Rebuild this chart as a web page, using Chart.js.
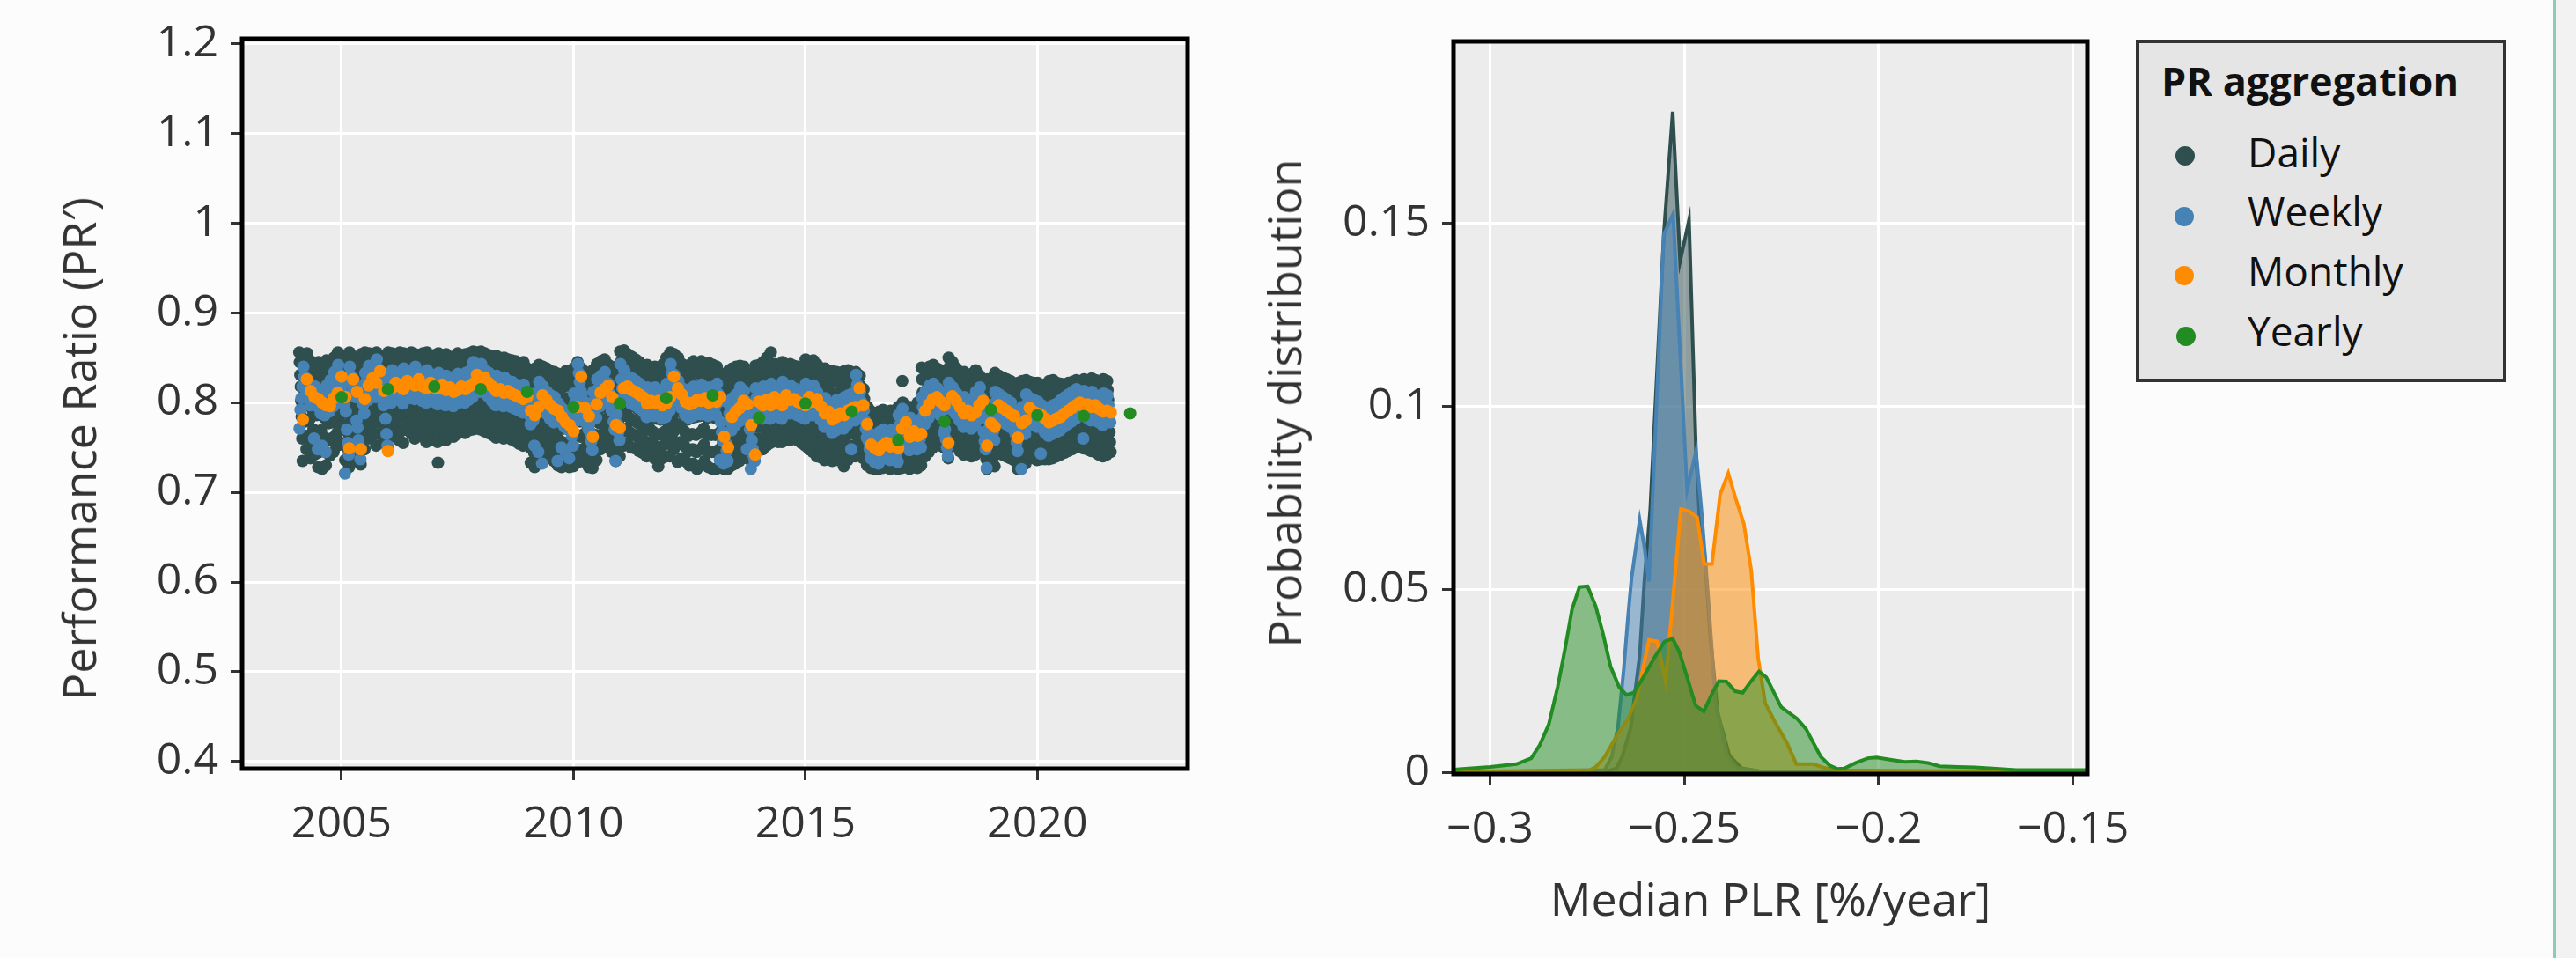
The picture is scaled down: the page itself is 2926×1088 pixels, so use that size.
<!DOCTYPE html>
<html>
<head>
<meta charset="utf-8">
<script src="https://cdn.jsdelivr.net/npm/chart.js@4.4.1/dist/chart.umd.min.js"></script>
<style>
  html, body { margin: 0; padding: 0; }
  body { width: 2926px; height: 1088px; background: #fcfcfc; position: relative; overflow: hidden;
         font-family: 'Open Sans', sans-serif; color: #333; }
  canvas { position: absolute; top: 0; }
  .axis-title { position: absolute; white-space: nowrap; font-size: 52px; line-height: 52px;
                transform: translate(-50%, -50%); }
  .axis-title.rot { transform: translate(-50%, -50%) rotate(-90deg); }
  #legend { position: absolute; left: 2426px; top: 45px; width: 421px; height: 389px;
            box-sizing: border-box; border: 4px solid #333; background: #e5e5e5; }
  .leg-text { position: absolute; white-space: nowrap; color: #111; }
  .leg-dot { position: absolute; width: 22px; height: 22px; border-radius: 50%; }
  #stripe { position: absolute; left: 2900px; top: 0; width: 3px; height: 1088px; background: #8fcab2; }
  #edge { position: absolute; left: 2903px; top: 0; width: 23px; height: 1088px; background: #f2f2f2; }
</style>
</head>
<body>
<canvas id="prChart" width="1400" height="1088" style="left:0"></canvas>
<canvas id="plrChart" width="1526" height="1088" style="left:1400px"></canvas>

<div class="axis-title rot" style="left:89px; top:510px">Performance Ratio (PR′)</div>
<div class="axis-title rot" style="left:1458px; top:458px">Probability distribution</div>
<div class="axis-title" style="left:2011px; top:1020px">Median PLR [%/year]</div>

<div id="legend"></div>
<div class="leg-text" style="left:2455px; top:69px; font-size:45px; line-height:45px; font-weight:bold">PR aggregation</div>
<div class="leg-dot" style="left:2471px; top:166px; background:#2f4f4f"></div>
<div class="leg-text" style="left:2553px; top:149px; font-size:46px; line-height:46px">Daily</div>
<div class="leg-dot" style="left:2470px; top:235px; background:#4682b4"></div>
<div class="leg-text" style="left:2553px; top:216px; font-size:46px; line-height:46px">Weekly</div>
<div class="leg-dot" style="left:2470px; top:302px; background:#ff8c00"></div>
<div class="leg-text" style="left:2553px; top:284px; font-size:46px; line-height:46px">Monthly</div>
<div class="leg-dot" style="left:2472px; top:371px; background:#228b22"></div>
<div class="leg-text" style="left:2553px; top:352px; font-size:46px; line-height:46px">Yearly</div>

<div id="stripe"></div>
<div id="edge"></div>

<script>
// series run from Feb 2004 to Jul 2021
const startYear = 2004;
const startMonth = 1;

// daily PR, thousandths, one group per month ("|"), one string per year
const dailyPR = [
  "856 845 831 818 802 784 760 735|851 842 829 814 797 779 763 748|855 843 833 816 800 781 757 738|846 837 822 808 791 770 754 742|843 831 820 803 786 764 744 728|845 834 819 806 788 769 747 726|840 828 817 801 783 761 745 730|847 836 824 809 794 777 758 741|844 835 822 811 795 778 761 745|850 838 826 812 797 781 766 752|856 845 832 818 803 787 771 755",
  "853 840 829 814 797 775 752 736|849 836 822 806 788 766 747 728|856 844 830 817 801 783 762 744|851 841 828 811 794 773 752 735|848 835 821 804 786 764 746 731|854 843 830 815 799 782 765 748|856 846 834 820 805 790 774 760|855 844 831 818 802 788 775 763|853 842 829 813 798 781 765 752|856 847 835 822 808 792 778 765|852 840 827 813 798 784 770 758|850 839 826 810 794 778 763 750",
  "856 845 833 819 804 789 775 762|855 846 834 821 807 793 779 768|853 841 829 816 801 786 771 758|856 844 831 816 800 784 769 755|855 847 836 823 809 795 781 770|852 843 832 819 805 790 777 766|856 845 832 817 802 787 773 760|854 846 836 824 811 797 784 772|853 842 830 815 800 786 773 762|855 843 829 814 798 783 768 756|856 846 835 822 807 792 779 768|850 840 829 815 800 785 771 758",
  "853 842 830 815 799 780 756 733|855 845 834 820 805 790 776 764|850 840 828 813 798 783 770 758|854 844 832 818 803 789 776 765|849 839 827 812 798 785 773 762|851 841 829 815 801 788 776 765|855 845 833 819 805 791 779 768|852 842 830 816 802 789 777 766|854 844 833 819 805 792 780 769|855 846 835 822 808 794 782 770|857 848 837 824 810 796 783 771|856 846 835 821 807 794 781 770",
  "857 847 836 822 808 794 781 768|855 845 833 819 805 791 778 766|853 842 830 816 802 788 775 764|851 840 828 813 799 785 772 761|852 841 829 815 801 787 774 763|849 838 826 811 797 783 771 760|850 840 828 813 799 786 773 762|848 837 825 810 796 782 770 759|847 836 823 808 793 779 767 757|846 835 822 806 791 777 765 754|844 833 820 804 789 775 763 752|845 834 821 806 791 777 765 755",
  "838 826 813 798 783 766 750 733|836 824 810 794 778 760 744 728|838 827 815 800 785 769 753 738|842 832 820 806 792 778 764 752|840 829 817 803 788 773 758 745|838 826 813 799 784 769 754 740|835 824 811 796 781 765 750 735|834 822 809 794 778 762 746 730|832 820 806 790 774 757 742 728|830 817 803 787 771 755 741 730|835 821 805 788 771 755 740 728|833 818 801 784 767 751 739 729",
  "838 826 812 797 781 764 748 733|845 836 825 811 796 779 762 745|838 826 812 797 781 765 749 734|834 821 807 791 775 758 742 728|830 816 800 783 766 750 738 727|836 824 811 796 780 764 750 736|843 833 821 807 792 777 762 748|846 836 824 810 795 780 766 752|848 838 826 812 797 782 768 755|842 831 818 803 788 772 758 745|836 823 808 792 776 760 746 735|840 826 810 794 778 763 750 740",
  "857 845 832 817 801 785 768 752|858 847 834 820 804 788 771 755|854 843 830 815 799 782 766 750|851 840 827 812 796 780 764 749|848 837 824 809 793 777 761 746|845 834 821 806 790 774 759 744|840 829 816 801 785 769 754 740|842 831 818 803 787 771 756 742|838 827 814 799 783 767 752 738|840 829 815 799 782 764 746 729|836 825 812 797 781 765 751 738|842 830 816 800 784 768 754 740",
  "850 839 826 811 794 776 758 740|856 846 834 820 804 786 767 748|854 842 829 813 795 776 755 734|850 839 826 810 793 775 756 738|843 832 819 803 786 768 751 735|840 829 815 799 781 763 746 730|842 831 817 801 783 765 748 732|846 834 820 803 784 764 745 726|844 833 819 803 785 766 748 730|846 835 822 806 789 771 753 735|842 831 817 801 783 764 746 728|844 833 819 802 784 764 745 726",
  "842 831 817 801 783 764 745 726|840 829 816 801 784 766 748 730|832 820 805 789 772 755 740 726|828 815 800 784 767 751 738 726|835 823 809 793 776 759 744 730|838 826 812 796 779 762 747 732|840 828 814 798 781 765 750 735|841 830 817 802 786 770 755 740|840 829 815 800 784 768 753 738|832 820 806 791 775 760 747 735|828 816 802 788 773 760 750 742|841 830 817 803 788 773 760 748",
  "842 831 818 804 789 774 760 748|845 834 821 807 792 778 764 752|850 838 824 809 794 780 767 755|856 843 829 814 799 784 771 758|843 832 820 806 791 777 765 756|841 830 818 804 789 775 764 756|845 835 823 810 796 782 770 760|842 832 820 806 792 778 767 758|843 833 821 807 793 780 769 760|841 831 819 805 791 777 767 758|840 829 817 803 788 775 764 755|839 828 815 801 786 772 761 752",
  "848 837 824 809 793 777 762 748|845 834 821 806 790 774 759 745|847 835 822 806 789 771 755 740|842 830 817 801 785 768 753 739|838 826 812 796 780 764 749 736|838 827 814 799 783 767 753 740|832 820 806 791 775 760 747 735|835 823 809 793 777 761 748 736|834 823 810 795 779 764 750 738|833 821 807 791 774 757 742 729|835 824 811 796 780 764 749 736|836 825 812 797 781 766 752 740",
  "833 822 810 795 780 765 752 740|834 825 815 802 787 772 759 748|830 819 806 792 777 762 749 738|815 804 792 779 765 752 740 730|795 786 776 765 754 743 734 727|790 781 771 760 750 740 732 726|788 779 769 758 748 739 731 726|790 781 772 762 752 742 733 727|792 783 774 764 754 744 735 728|789 780 770 759 749 740 732 726|791 782 773 763 753 743 734 727|788 779 769 758 748 739 731 726",
  "795 786 776 765 754 744 735 727|824 800 789 777 765 753 740 729|790 781 771 760 749 739 731 726|795 786 776 765 754 744 735 728|792 783 773 762 751 741 733 727|800 790 779 767 756 746 737 730|839 826 811 795 779 764 751 740|836 826 814 800 786 771 757 745|840 830 818 804 790 775 762 750|842 832 820 806 792 778 766 755|838 828 816 802 788 774 762 752|836 826 814 800 786 772 760 750",
  "835 822 807 791 776 762 749 738|850 839 826 811 796 781 767 755|845 834 821 806 791 777 764 752|838 827 814 799 784 770 757 746|832 821 808 793 778 765 752 742|834 823 810 795 780 767 754 744|830 819 806 791 776 763 750 740|832 821 808 793 778 765 752 742|836 825 813 799 784 770 757 746|830 821 811 799 785 771 757 745|820 808 794 779 764 750 737 726|826 814 800 785 770 756 743 732",
  "826 814 800 785 770 755 741 729|833 823 811 797 782 768 756 745|830 820 808 794 779 765 753 742|828 818 806 792 777 763 751 740|826 816 803 789 774 760 748 738|824 814 801 787 772 758 746 736|818 806 792 777 762 748 736 726|822 810 796 781 766 751 739 728|824 813 799 784 769 755 743 732|825 815 804 791 776 762 750 740|823 813 801 787 773 760 748 738|822 812 800 786 772 759 747 736",
  "822 812 800 786 772 759 747 737|820 809 797 783 769 756 746 737|819 808 795 781 767 755 745 737|824 812 799 785 771 758 747 738|825 814 801 787 773 760 749 740|822 812 800 787 774 762 751 742|821 812 801 789 776 764 753 744|820 812 802 791 779 767 756 746|822 814 804 793 781 769 758 748|823 815 806 795 783 771 760 750|825 817 808 797 785 773 762 752|822 814 805 794 782 770 759 749",
  "826 817 807 795 783 771 759 748|824 815 805 793 781 769 757 746|827 817 806 794 781 769 757 745|825 815 804 792 779 766 754 742|823 813 802 790 777 764 752 740|826 815 803 790 777 765 753 742|824 814 803 791 779 767 756 745"
];

// weekly PR, thousandths, four weeks per month
const weeklyPR = [
  "771 792 805 818|840 829 820 810|826 816 807 797|820 809 800 760|818 807 796 748|812 800 788 752|809 799 786 745|819 809 799 790|825 815 806 796|834 822 812 802|842 832 823 813",
  "821 810 798 721|790 770 755 742|840 830 820 810|826 816 806 780|772 758 748 737|818 808 798 788|833 823 813 803|841 831 821 811|836 826 816 806|848 838 828 818|827 817 807 797|805 782 765 752",
  "830 821 809 800|836 825 817 806|833 822 811 803|829 818 810 799|838 829 818 808|835 824 816 805|833 823 812 804|840 831 819 810|832 823 811 802|830 819 811 800|836 827 815 806|831 820 812 801",
  "831 819 808 798|833 825 814 805|829 817 809 797|830 821 810 801|826 815 806 796|829 817 808 799|832 822 812 803|828 819 808 800|833 821 812 803|835 825 815 806|845 835 825 816|842 831 822 812",
  "843 831 822 812|836 826 816 807|833 821 812 802|827 817 808 797|830 818 809 800|825 815 805 796|828 816 808 798|824 814 805 795|823 811 802 793|820 810 800 791|819 807 798 789|820 810 800 791",
  "806 795 786 776|801 790 780 752|810 799 790 745|823 812 802 732|818 807 797 788|812 801 792 782|808 797 788 778|806 795 786 735|799 788 778 750|793 782 773 745|790 779 770 738|783 772 763 752",
  "810 799 790 780|843 833 823 813|809 798 789 779|800 789 780 770|777 766 757 747|812 802 792 783|826 815 806 796|830 819 810 800|834 823 814 804|821 810 801 791|790 779 770 735|787 776 767 758",
  "843 826 816 806|836 823 813 803|829 818 809 799|827 816 807 797|824 813 804 794|821 810 801 791|814 803 794 784|817 806 797 787|815 804 795 785|817 806 797 787|812 801 792 782|814 803 794 784",
  "821 810 801 791|843 833 823 814|831 820 811 801|824 813 804 794|816 805 796 786|813 802 793 783|815 804 795 785|818 807 798 788|817 806 797 787|820 809 800 790|815 804 795 785|817 806 797 787",
  "816 805 796 786|821 810 801 736|778 767 757 732|766 755 746 735|799 788 779 769|805 794 785 775|809 798 789 779|817 806 797 787|813 802 793 748|790 779 770 726|758 748 740 735|816 805 796 786",
  "812 801 792 782|818 807 798 788|812 801 792 782|821 810 801 791|814 803 794 784|812 801 792 782|823 812 803 793|818 807 798 788|819 808 799 789|816 805 796 786|814 803 794 784|812 801 792 782",
  "821 810 801 791|816 805 796 786|819 808 799 789|811 800 791 781|803 792 783 773|805 794 785 775|796 785 776 766|799 788 779 769|803 792 783 773|801 790 781 771|806 795 786 776|808 797 788 748",
  "810 799 790 780|831 820 811 801|812 801 792 782|791 780 771 761|768 757 748 738|764 753 744 734|762 751 742 732|767 756 747 737|770 759 750 740|766 755 746 736|769 758 749 739|764 753 744 734",
  "786 775 766 756|793 782 773 763|777 766 757 747|783 772 763 753|778 767 758 748|780 769 760 750|806 795 786 776|813 802 793 783|819 808 799 789|821 810 801 791|816 805 796 786|812 801 792 766",
  "770 759 750 740|822 811 802 792|817 806 797 787|810 799 790 780|803 792 783 773|806 795 786 776|801 790 781 771|804 793 784 774|812 801 792 782|817 806 797 787|767 757 748 727|792 781 772 762",
  "788 777 768 758|812 801 792 782|809 798 789 779|806 795 786 776|803 792 783 773|800 789 780 770|776 765 756 746|792 781 772 726|795 784 775 765|809 798 789 779|805 794 785 775|803 792 783 773",
  "801 790 781 743|797 786 777 767|793 782 773 763|795 784 775 765|797 786 777 767|799 788 779 769|803 792 783 773|806 795 786 776|809 798 789 779|812 801 792 782|815 804 795 785|811 800 791 760",
  "813 802 793 783|810 799 790 780|812 801 792 782|808 797 788 778|805 794 785 775|810 799 790 780|808 797 788 778"
];

// monthly PR (month-end), Feb 2004 .. Jul 2021
const monthlyPR = [
  0.781, 0.826, 0.813, 0.806, 0.804, 0.800, 0.797, 0.796, 0.805, 0.811, 0.829,
  0.806, 0.749, 0.826, 0.812, 0.748, 0.804, 0.819, 0.827, 0.822, 0.835, 0.813, 0.746,
  0.816, 0.822, 0.818, 0.815, 0.824, 0.821, 0.819, 0.826, 0.818, 0.816, 0.822, 0.817,
  0.816, 0.820, 0.814, 0.817, 0.812, 0.814, 0.818, 0.815, 0.818, 0.821, 0.831, 0.828,
  0.828, 0.822, 0.818, 0.813, 0.815, 0.811, 0.813, 0.810, 0.808, 0.806, 0.804, 0.806,
  0.791, 0.786, 0.795, 0.808, 0.803, 0.797, 0.793, 0.791, 0.784, 0.778, 0.775, 0.768,
  0.795, 0.829, 0.794, 0.785, 0.762, 0.798, 0.811, 0.815, 0.819, 0.806, 0.775, 0.772,
  0.816, 0.818, 0.814, 0.812, 0.809, 0.806, 0.799, 0.802, 0.800, 0.802, 0.797, 0.799,
  0.806, 0.829, 0.816, 0.809, 0.801, 0.798, 0.800, 0.803, 0.802, 0.805, 0.800, 0.802,
  0.801, 0.806, 0.762, 0.750, 0.784, 0.790, 0.794, 0.802, 0.798, 0.775, 0.742, 0.801,
  0.797, 0.803, 0.797, 0.806, 0.799, 0.797, 0.808, 0.803, 0.804, 0.801, 0.799, 0.797,
  0.806, 0.801, 0.804, 0.796, 0.788, 0.790, 0.781, 0.784, 0.788, 0.786, 0.791, 0.793,
  0.795, 0.816, 0.797, 0.776, 0.753, 0.749, 0.747, 0.752, 0.755, 0.751, 0.754, 0.749,
  0.771, 0.778, 0.762, 0.768, 0.763, 0.765, 0.791, 0.798, 0.804, 0.806, 0.801, 0.797,
  0.755, 0.807, 0.802, 0.795, 0.788, 0.791, 0.786, 0.789, 0.797, 0.802, 0.752, 0.777,
  0.773, 0.797, 0.794, 0.791, 0.788, 0.785, 0.761, 0.777, 0.780, 0.794, 0.790, 0.788,
  0.786, 0.782, 0.778, 0.780, 0.782, 0.784, 0.788, 0.791, 0.794, 0.797, 0.800, 0.796,
  0.798, 0.795, 0.797, 0.793, 0.790, 0.791, 0.789
];

// yearly PR (plotted at year end)
const yearlyYears = [2004, 2005, 2006, 2007, 2008, 2009, 2010, 2011, 2012, 2013, 2014, 2015, 2016, 2017, 2018, 2019, 2020, 2021];
const yearlyPR = [0.806, 0.815, 0.818, 0.815, 0.812, 0.795, 0.799, 0.805, 0.808, 0.783, 0.799, 0.790, 0.758, 0.779, 0.792, 0.786, 0.785, 0.788];

// PLR distributions (median PLR in %/year -> density)
const dailyPlrX = [-0.3094, -0.2700, -0.2675, -0.2660, -0.2638, -0.2615, -0.2603, -0.2588, -0.2553, -0.2530, -0.2511, -0.2488, -0.2470, -0.2460, -0.2448, -0.2433, -0.2414, -0.2384, -0.2353, -0.2300, -0.1463];
const dailyPlrY = [0, 0.0003, 0.0011, 0.0043, 0.0123, 0.0320, 0.0522, 0.0716, 0.1470, 0.1806, 0.1397, 0.1510, 0.0877, 0.0680, 0.0600, 0.0369, 0.0161, 0.0046, 0.0012, 0.0002, 0];
const weeklyPlrX = [-0.3094, -0.2705, -0.2687, -0.2671, -0.2656, -0.2645, -0.2636, -0.2615, -0.2603, -0.2591, -0.2553, -0.2529, -0.2493, -0.2470, -0.2456, -0.2439, -0.2420, -0.2390, -0.2365, -0.2300, -0.1463];
const weeklyPlrY = [0, 0.0007, 0.0043, 0.0123, 0.0282, 0.0426, 0.0530, 0.0690, 0.0617, 0.0522, 0.1470, 0.1526, 0.0772, 0.0877, 0.0716, 0.0484, 0.0196, 0.0046, 0.0012, 0.0002, 0];
const monthlyPlrX = [-0.3094, -0.2743, -0.2728, -0.2705, -0.2675, -0.2645, -0.2622, -0.2607, -0.2591, -0.2570, -0.2548, -0.2509, -0.2488, -0.2467, -0.2449, -0.2429, -0.2408, -0.2387, -0.2368, -0.2347, -0.2328, -0.2310, -0.2292, -0.2267, -0.2236, -0.2212, -0.2168, -0.2138, -0.2095, -0.1463];
const monthlyPlrY = [0.0002, 0.0007, 0.0015, 0.0043, 0.0099, 0.0147, 0.0203, 0.0282, 0.0362, 0.0358, 0.0250, 0.0720, 0.0714, 0.0697, 0.0570, 0.0570, 0.0760, 0.0818, 0.0749, 0.0680, 0.0553, 0.0311, 0.0190, 0.0138, 0.0081, 0.0023, 0.0023, 0.0012, 0.0006, 0.0001];
const yearlyPlrX = [-0.3094, -0.3000, -0.2932, -0.2894, -0.2872, -0.2849, -0.2826, -0.2807, -0.2789, -0.2770, -0.2749, -0.2728, -0.2709, -0.2690, -0.2668, -0.2649, -0.2630, -0.2607, -0.2577, -0.2551, -0.2530, -0.2513, -0.2490, -0.2471, -0.2450, -0.2426, -0.2411, -0.2392, -0.2369, -0.2350, -0.2328, -0.2308, -0.2289, -0.2251, -0.2236, -0.2210, -0.2187, -0.2149, -0.2126, -0.2107, -0.2089, -0.2058, -0.2028, -0.2005, -0.1971, -0.1933, -0.1903, -0.1873, -0.1843, -0.1797, -0.1752, -0.1707, -0.1646, -0.1570, -0.1463];
const yearlyPlrY = [0.0008, 0.0015, 0.0023, 0.0039, 0.0075, 0.0131, 0.0234, 0.0338, 0.0446, 0.0507, 0.0509, 0.0454, 0.0378, 0.0290, 0.0234, 0.0212, 0.0218, 0.0258, 0.0314, 0.0358, 0.0366, 0.0330, 0.0250, 0.0183, 0.0167, 0.0222, 0.0250, 0.0249, 0.0222, 0.0218, 0.0250, 0.0276, 0.0260, 0.0179, 0.0167, 0.0147, 0.0119, 0.0043, 0.0019, 0.0010, 0.0011, 0.0027, 0.0039, 0.0041, 0.0035, 0.0029, 0.0030, 0.0026, 0.0017, 0.0015, 0.0014, 0.0011, 0.0007, 0.0007, 0.0007];

// axis ticks
const yearTicks = [2005, 2010, 2015, 2020];
const prTicks = [0.4, 0.5, 0.6, 0.7, 0.8, 0.9, 1.0, 1.1, 1.2];
const prTickLabels = ['0.4', '0.5', '0.6', '0.7', '0.8', '0.9', '1', '1.1', '1.2'];
const plrTicks = [-0.3, -0.25, -0.2, -0.15];
const plrTickLabels = ['\u22120.3', '\u22120.25', '\u22120.2', '\u22120.15'];
const densityTicks = [0, 0.05, 0.1, 0.15];
const densityTickLabels = ['0', '0.05', '0.1', '0.15'];

const colors = { daily: '#2f4f4f', weekly: '#4682b4', monthly: '#ff8c00', yearly: '#228b22' };
const fills = { daily: 'rgba(47,79,79,0.5)', weekly: 'rgba(70,130,180,0.5)', monthly: 'rgba(255,140,0,0.5)', yearly: 'rgba(34,139,34,0.5)' };

// decimal year for a position inside month i (counted from the start month)
function monthPos(i, frac) {
  return startYear + (startMonth + i + frac) / 12;
}

function spreadPoints(rows) {
  const pts = [];
  rows.join('|').split('|').forEach((g, i) => {
    const vals = g.trim().split(/\s+/).map(Number);
    vals.forEach((v, k) => pts.push({ x: monthPos(i, (k + 0.5) / vals.length), y: v / 1000 }));
  });
  return pts;
}

const zip = (xs, ys) => xs.map((x, i) => ({ x, y: ys[i] }));

// grey panel behind the plot and a black frame round it
const panelPlugin = {
  id: 'panel',
  beforeDraw(chart) {
    const { ctx, chartArea: a } = chart;
    ctx.save();
    ctx.fillStyle = '#ececec';
    ctx.fillRect(a.left, a.top, a.width, a.height);
    ctx.restore();
  },
  afterDraw(chart) {
    const { ctx, chartArea: a } = chart;
    ctx.save();
    ctx.strokeStyle = '#000';
    ctx.lineWidth = 5;
    ctx.strokeRect(a.left, a.top, a.width, a.height);
    ctx.restore();
  }
};

function axis(min, max, ticks, labels, fit, padding) {
  return {
    type: 'linear',
    min: min,
    max: max,
    afterBuildTicks: s => { s.ticks = ticks.map(v => ({ value: v })); },
    afterFit: fit,
    ticks: {
      callback: (v, i) => labels[i],
      font: { family: "'Open Sans'", size: 50 },
      color: '#333',
      padding: padding,
      autoSkip: false,
      maxRotation: 0
    },
    grid: { color: '#ffffff', lineWidth: 3, tickColor: '#333', tickLength: 13, tickWidth: 3 },
    border: { display: false }
  };
}

const baseOptions = {
  responsive: false,
  animation: false,
  devicePixelRatio: 1,
  events: [],
  plugins: { legend: { display: false }, tooltip: { enabled: false } }
};

// Performance ratio over time (scatter)
new Chart(document.getElementById('prChart').getContext('2d'), {
  type: 'scatter',
  data: {
    datasets: [
      { label: 'Daily', data: spreadPoints(dailyPR), backgroundColor: colors.daily, order: 4 },
      { label: 'Weekly', data: spreadPoints(weeklyPR), backgroundColor: colors.weekly, order: 3 },
      { label: 'Monthly', data: monthlyPR.map((v, i) => ({ x: monthPos(i, 1), y: v })), backgroundColor: colors.monthly, order: 2 },
      { label: 'Yearly', data: yearlyPR.map((v, i) => ({ x: yearlyYears[i] + 1, y: v })), backgroundColor: colors.yearly, order: 1 }
    ].map(d => Object.assign(d, { pointRadius: 7, borderWidth: 0 }))
  },
  options: Object.assign({}, baseOptions, {
    layout: { padding: { left: 0, top: 43, right: 51, bottom: 0 } },
    scales: {
      x: axis(2002.856, 2023.24, yearTicks, yearTicks.map(String), s => { s.height = 215; }, 21),
      y: axis(0.392, 1.2055, prTicks, prTickLabels, s => { s.width = 275; }, 14)
    }
  }),
  plugins: [panelPlugin]
});

// distribution of median PLR (filled density curves)
const kde = (label, xs, ys, key, order) => ({
  label, data: zip(xs, ys), borderColor: colors[key], backgroundColor: fills[key],
  borderWidth: 4, pointRadius: 0, fill: 'origin', tension: 0, order
});

new Chart(document.getElementById('plrChart').getContext('2d'), {
  type: 'line',
  data: {
    datasets: [
      kde('Daily', dailyPlrX, dailyPlrY, 'daily', 4),
      kde('Weekly', weeklyPlrX, weeklyPlrY, 'weekly', 3),
      kde('Monthly', monthlyPlrX, monthlyPlrY, 'monthly', 2),
      kde('Yearly', yearlyPlrX, yearlyPlrY, 'yearly', 1)
    ]
  },
  options: Object.assign({}, baseOptions, {
    layout: { padding: { left: 0, top: 47, right: 555, bottom: 0 } },
    scales: {
      x: axis(-0.3094, -0.1463, plrTicks, plrTickLabels, s => { s.height = 209; }, 21),
      y: axis(-0.0004, 0.1998, densityTicks, densityTickLabels, s => { s.width = 251; }, 14)
    }
  }),
  plugins: [panelPlugin]
});
</script>
</body>
</html>
